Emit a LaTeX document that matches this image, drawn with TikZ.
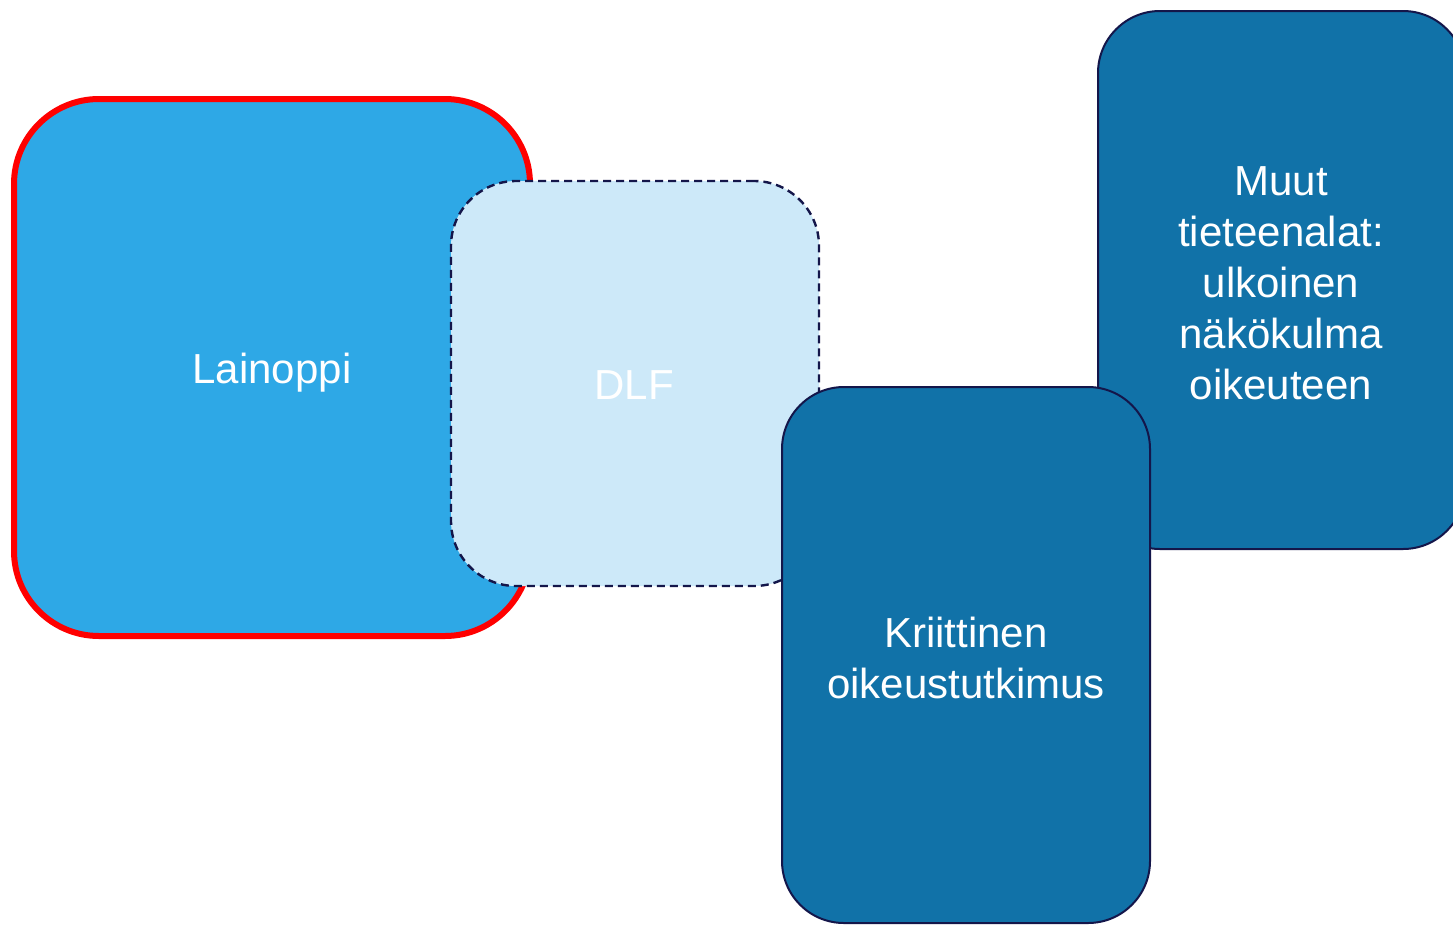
\documentclass[tikz,border=0pt]{standalone}
\usepackage{fontspec}
\setmainfont{Liberation Sans}
\definecolor{lainfill}{HTML}{2EA8E6}
\definecolor{dlffill}{HTML}{CDE9F9}
\definecolor{darkfill}{HTML}{1172A8}
\definecolor{navy}{HTML}{14164A}
\definecolor{redline}{HTML}{FF0000}
\begin{document}
\begin{tikzpicture}[x=1pt,y=-1pt,
  basebox/.style={rectangle, inner sep=0pt},
  boxtext/.style={align=center, text=white, inner sep=0pt, font=\fontsize{42}{51}\selectfont},
  lainbox/.style={basebox, fill=lainfill, draw=redline, line width=6pt, rounded corners=85pt},
  dlfbox/.style={basebox, fill=dlffill, draw=navy, line width=2.4pt, dash pattern=on 8pt off 5pt, rounded corners=65pt},
  darkbox/.style={basebox, fill=darkfill, draw=navy, line width=2pt, rounded corners=62pt}]
\useasboundingbox (0,0) rectangle (1453,924);
\fill[white] (0,0) rectangle (1453,924);
\node[lainbox, minimum width=516pt, minimum height=537pt] (lain) at (272,367.5) {};
\node[boxtext] (laint) at (272,373) {Lainoppi};
\node[dlfbox, minimum width=368pt, minimum height=405pt] (dlf) at (635,383.5) {};
\node[boxtext] (dlft) at (634,385) {DLF};
\node[darkbox, minimum width=367pt, minimum height=538pt] (muut) at (1281.5,280) {};
\node[boxtext] (muutt) at (1281,283) {Muut\\tieteenalat:\\ulkoinen\\näkökulma\\oikeuteen};
\node[darkbox, minimum width=368pt, minimum height=536pt] (krit) at (966,655) {};
\node[boxtext] (kritt) at (966,658) {Kriittinen\\oikeustutkimus};
\end{tikzpicture}
\end{document}
